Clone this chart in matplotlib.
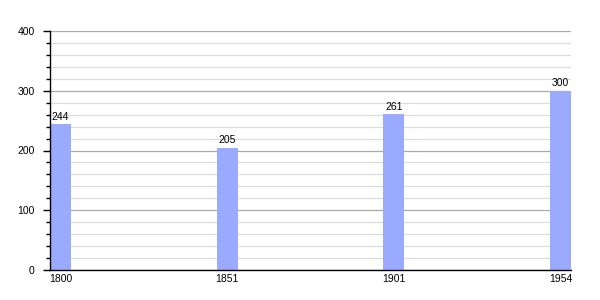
import matplotlib
matplotlib.use("Agg")
import matplotlib.pyplot as plt
from matplotlib.ticker import MultipleLocator

years = ["1800", "1851", "1901", "1954"]
values = [244, 205, 261, 300]

plt.rcParams['font.family'] = ['Liberation Sans', 'DejaVu Sans']

fig = plt.figure(figsize=(6, 3), dpi=100)
ax = fig.add_axes([50/600, 0.1, 521/600, 239/300])

w = 0.126
pos = list(range(len(years)))
bars = ax.bar(pos, values, width=w, align='edge', color='#99aaff', zorder=3)
for p, v in zip(pos, values):
    ax.text(p + w/2, v + 4, str(v), ha='center', va='bottom', fontsize=7.5, zorder=4)

ax.set_xlim(0, len(years) - 1 + w)
ax.set_ylim(0, 400)
ax.set_xticks([p + w/2 for p in pos])
ax.set_xticklabels(years, fontsize=7.5)
ax.tick_params(axis='x', length=0, pad=3)
ax.yaxis.set_major_locator(MultipleLocator(100))
ax.yaxis.set_minor_locator(MultipleLocator(20))
ax.tick_params(axis='y', which='major', length=5, width=1, labelsize=7.5, direction='out', pad=6)
ax.tick_params(axis='y', which='minor', length=3, width=1, direction='out')
ax.grid(axis='y', which='major', color='#aaaaaa', linewidth=0.9, zorder=1)
ax.grid(axis='y', which='minor', color='#dddddd', linewidth=0.9, zorder=1)
ax.set_axisbelow(True)
for s in ['top', 'right']:
    ax.spines[s].set_visible(False)
ax.spines['left'].set_linewidth(1)
ax.spines['bottom'].set_linewidth(1)
ax.spines['left'].set_zorder(5)
ax.spines['bottom'].set_zorder(5)

fig.savefig("out.png", dpi=100)
